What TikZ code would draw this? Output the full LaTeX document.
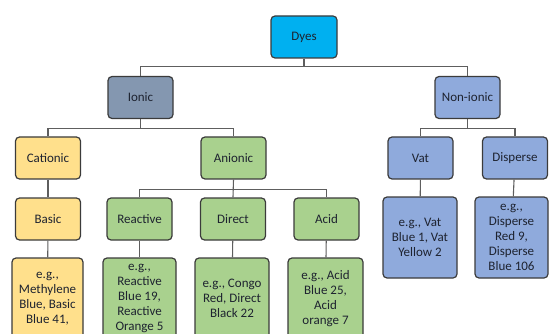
\documentclass[tikz,border=0pt]{standalone}
\usepackage{fontspec}
\setmainfont{Carlito}
\definecolor{boxline}{HTML}{3B3B3B}
\definecolor{linkgray}{HTML}{5E5E5E}
\definecolor{labeltext}{HTML}{1E2330}
\definecolor{dyesfill}{HTML}{00B0F0}
\definecolor{ionicfill}{HTML}{8497B0}
\definecolor{nonionicfill}{HTML}{8FAADC}
\definecolor{catfill}{HTML}{FFE08C}
\definecolor{anfill}{HTML}{A9D18E}
\begin{document}
\begin{tikzpicture}[x=1pt,y=1pt,
  box/.style={draw=boxline, line width=1.2pt, rounded corners=4pt,
    minimum width=65pt, minimum height=42pt, inner sep=1pt, align=center,
    text=labeltext, font=\fontsize{13}{15}\selectfont},
  exbox/.style={box, minimum height=81pt},
  link/.style={draw=linkgray, line width=1.1pt}]
  \useasboundingbox (0,0) rectangle (549,-334);
  \clip (0,0) rectangle (549,-334);
  % top levels
  \node[box, fill=dyesfill, minimum width=66pt] (dyes) at (304,-37) {Dyes};
  \node[box, fill=ionicfill] (ionic) at (140.5,-97.5) {Ionic};
  \node[box, fill=nonionicfill] (nonionic) at (467.5,-97.5) {Non-ionic};
  \node[box, fill=catfill] (cationic) at (48,-158) {Cationic};
  \node[box, fill=anfill] (anionic) at (233.5,-158) {Anionic};
  \node[box, fill=nonionicfill] (vat) at (420.5,-158) {Vat};
  \node[box, fill=nonionicfill] (disperse) at (515,-158) {Disperse};
  \node[box, fill=catfill] (basic) at (48,-219) {Basic};
  \node[box, fill=anfill] (reactive) at (139.5,-219) {Reactive};
  \node[box, fill=anfill] (direct) at (233,-219) {Direct};
  \node[box, fill=anfill] (acid) at (326.5,-219) {Acid};
  % examples
  \node[exbox, fill=catfill, minimum width=71pt] (basicex) at (47.5,-298.5)
    {e.g.,\\Methylene\\Blue, Basic\\Blue 41,};
  \node[exbox, fill=anfill, minimum width=73pt] (reactiveex) at (139.5,-298.5)
    {e.g.,\\Reactive\\Blue 19,\\Reactive\\Orange 5};
  \node[exbox, fill=anfill, minimum width=74pt] (directex) at (232,-298.5)
    {e.g., Congo\\Red, Direct\\Black 22};
  \node[exbox, fill=anfill, minimum width=75pt] (acidex) at (325.5,-298.5)
    {e.g., Acid\\Blue 25,\\Acid\\orange 7};
  \node[exbox, fill=nonionicfill, minimum width=74pt] (vatex) at (420,-237.5)
    {e.g., Vat\\Blue 1, Vat\\Yellow 2};
  \node[exbox, fill=nonionicfill, minimum width=73pt] (disperseex) at (511.5,-237.5)
    {e.g.,\\Disperse\\Red 9,\\Disperse\\Blue 106};
  % connectors
  \draw[link] (dyes.south) -- ++(0,-8) -| (ionic.north);
  \draw[link] (dyes.south) -- ++(0,-8) -| (nonionic.north);
  \draw[link] (ionic.south) -- ++(0,-9) -| (cationic.north);
  \draw[link] (ionic.south) -- ++(0,-9) -| (anionic.north);
  \draw[link] (nonionic.south) -- ++(0,-9) -| (vat.north);
  \draw[link] (nonionic.south) -- ++(0,-9) -| (disperse.north);
  \draw[link] (anionic.south) -- ++(0,-10) -| (reactive.north);
  \draw[link] (anionic.south) -- ++(0,-10) -| (acid.north);
  \draw[link] (anionic.south) -- (direct.north);
  \draw[link] (cationic) -- (basic);
  \draw[link] (basic) -- (basicex);
  \draw[link] (reactive) -- (reactiveex);
  \draw[link] (direct) -- (directex);
  \draw[link] (acid) -- (acidex);
  \draw[link] (vat) -- (vatex);
  \draw[link] (disperse) -- (disperseex);
\end{tikzpicture}
\end{document}
